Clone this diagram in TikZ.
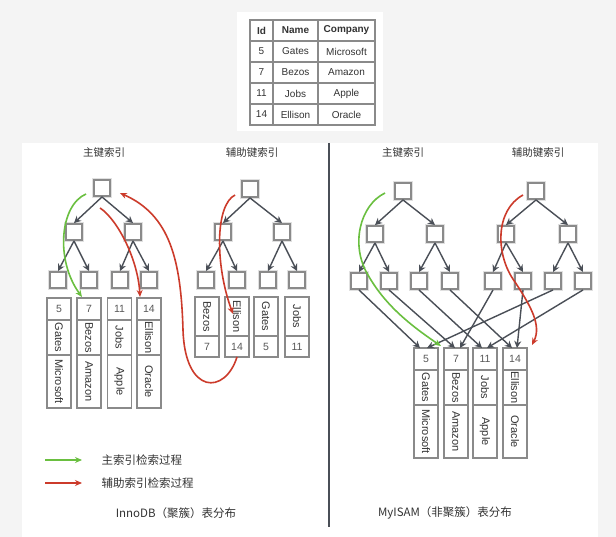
\documentclass[tikz,border=0pt]{standalone}
\usepackage{fontspec}
\setmainfont{Liberation Sans}
\newfontfamily\cjk{Noto Sans CJK SC}
\usetikzlibrary{arrows.meta,positioning}

\definecolor{boxgray}{HTML}{8A8A8A}
\definecolor{linegray}{HTML}{4A4F57}
\definecolor{txtgray}{HTML}{333333}
\definecolor{routegreen}{HTML}{6ABF40}
\definecolor{routered}{HTML}{CC3B2B}
\definecolor{bggray}{HTML}{F4F4F4}

\begin{document}
\begin{tikzpicture}[x=1pt, y=-1pt,
            keybox/.style={draw=boxgray, line width=1.9pt, fill=white, minimum size=16pt, inner sep=0pt,
                preaction={draw=black!12, line width=3.8pt}},
            treearrow/.style={draw=linegray, line width=1.4pt, -{Stealth[length=7pt, width=7pt]}},
            cell/.style={draw=boxgray, line width=1.6pt, fill=white, minimum width=24pt, inner sep=0pt,
                outer sep=0pt, text=txtgray, font=\fontsize{11}{12}\selectfont},
            idcell/.style={cell, text=black!65, font=\fontsize{10.5}{12}\selectfont},
            tablecell/.style={draw=boxgray, line width=1.3pt, minimum height=21pt, inner sep=0pt,
                outer sep=0pt, text=txtgray, font=\fontsize{10}{12}\selectfont},
            greenroute/.style={draw=routegreen, line width=1.6pt, -{Stealth[length=7pt, width=6pt]}},
            redroute/.style={draw=routered, line width=1.6pt, -{Stealth[length=7pt, width=6pt]}},
            cnlabel/.style={font=\cjk\fontsize{10.5}{12}\selectfont, text=txtgray},
            legendlabel/.style={font=\cjk\fontsize{11.5}{13}\selectfont, text=txtgray, anchor=west}
        ]
            \useasboundingbox (0,0) rectangle (616,537);
            % panels
            \fill[bggray] (0,0) rectangle (616,537);
            \fill[white] (22,143) rectangle (598,537);
            \fill[white] (237,12) rectangle (383,131);

            % table
            \foreach \r/\y/\a/\b/\c in {0/30.5/\textbf{Id}/\textbf{Name}/\textbf{Company},
                1/51.5/5/Gates/Microsoft, 2/72.5/7/Bezos/Amazon,
                3/93.5/11/Jobs/Apple, 4/114.5/14/Ellison/Oracle}{
                \node[tablecell, minimum width=23pt] (tid\r) at (261.5,\y) {\a};
                \node[tablecell, minimum width=45pt, right=0pt of tid\r] (tname\r) {\b};
                \node[tablecell, minimum width=57pt, right=0pt of tname\r] (tcomp\r) {\c};
            }
            \draw[boxgray, line width=1.9pt] (tid0.north west) rectangle (tcomp4.south east);

            % divider
            \draw[linegray, line width=2.5pt] (329,143) -- (329,527);

            % headers
            \node[cnlabel] (hip) at (104,153) {主键索引};
            \node[cnlabel] (his) at (252,153) {辅助键索引};
            \node[cnlabel] (hmp) at (403,153) {主键索引};
            \node[cnlabel] (hms) at (538,153) {辅助键索引};

            % InnoDB primary index
            \node[keybox] (ip1) at (102,188) {};
            \node[keybox] (ip2) at (74,232) {};
            \node[keybox] (ip3) at (133,232) {};
            \node[keybox] (ip4) at (58,280) {};
            \node[keybox] (ip5) at (89,280) {};
            \node[keybox] (ip6) at (120,280) {};
            \node[keybox] (ip7) at (149,280) {};

            % InnoDB secondary index
            \node[keybox] (is1) at (250,189) {};
            \node[keybox] (is2) at (223,232) {};
            \node[keybox] (is3) at (282,232) {};
            \node[keybox] (is4) at (206,280) {};
            \node[keybox] (is5) at (237,280) {};
            \node[keybox] (is6) at (268,280) {};
            \node[keybox] (is7) at (297,280) {};

            % MyISAM primary index
            \node[keybox] (mp1) at (403,191) {};
            \node[keybox] (mp2) at (375,234) {};
            \node[keybox] (mp3) at (435,234) {};
            \node[keybox] (mp4) at (359,281) {};
            \node[keybox] (mp5) at (389,281) {};
            \node[keybox] (mp6) at (419,281) {};
            \node[keybox] (mp7) at (450,281) {};

            % MyISAM secondary index
            \node[keybox] (ms1) at (536,191) {};
            \node[keybox] (ms2) at (506,234) {};
            \node[keybox] (ms3) at (568,234) {};
            \node[keybox] (ms4) at (493,281) {};
            \node[keybox] (ms5) at (523,281) {};
            \node[keybox] (ms6) at (553,281) {};
            \node[keybox] (ms7) at (583,281) {};

            \foreach \t in {ip, is, mp, ms}{
                \foreach \u/\v in {1/2, 1/3, 2/4, 2/5, 3/6, 3/7}{
                    \draw[treearrow] (\t\u.south) -- (\t\v.north);
                }
            }

            % InnoDB rows in the primary leaves
            \foreach \k/\x/\name/\comp in {5/59/Gates/Microsoft, 7/89/Bezos/Amazon,
                11/119.5/Jobs/Apple, 14/149/Ellison/Oracle}{
                \node[idcell, minimum height=22pt] (ir\k) at (\x,309) {\k};
                \node[cell, minimum height=35pt, below=0pt of ir\k] (irn\k) {\rotatebox{-90}{\name}};
                \node[cell, minimum height=53pt, below=0pt of irn\k] (irc\k) {\rotatebox{-90}{\comp}};
            }

            % InnoDB secondary leaves
            \foreach \k/\x/\name in {7/207/Bezos, 14/237/Ellison, 5/266/Gates, 11/297/Jobs}{
                \node[cell, minimum height=39pt] (isn\k) at (\x,316.5) {\rotatebox{-90}{\name}};
                \node[idcell, minimum height=21pt, below=0pt of isn\k] (isr\k) {\k};
            }

            % MyISAM data file
            \foreach \k/\x/\name/\comp in {5/426/Gates/Microsoft, 7/456/Bezos/Amazon,
                11/485/Jobs/Apple, 14/515/Ellison/Oracle}{
                \node[idcell, minimum height=22pt] (mr\k) at (\x,359) {\k};
                \node[cell, minimum height=35pt, below=0pt of mr\k] (mrn\k) {\rotatebox{-90}{\name}};
                \node[cell, minimum height=53pt, below=0pt of mrn\k] (mrc\k) {\rotatebox{-90}{\comp}};
            }

            % MyISAM leaves point to rows
            \foreach \u/\v/\dx in {mp4/mr5/-6, mp5/mr7/-1, mp6/mr11/-3, mp7/mr14/-3,
                ms4/mr7/4, ms5/mr14/2, ms6/mr5/1, ms7/mr11/2}{
                \draw[treearrow] (\u.south) -- ([xshift=\dx pt]\v.north);
            }

            % search paths, InnoDB
            \draw[greenroute] ([xshift=-7pt, yshift=-6pt]ip1.west)
                .. controls (60,205) and (55,260) .. ([xshift=-7pt, yshift=1pt]ir7.north);
            \draw[redroute] ([xshift=-2pt, yshift=-11pt]ip1.south)
                .. controls (118,220) and (138,260) .. ([xshift=-9pt, yshift=1pt]ir14.north);
            \draw[redroute] ([xshift=-6pt, yshift=-6pt]is1.west)
                .. controls (215,205) and (215,265) .. ([xshift=-4pt, yshift=-17pt]isn14.north);
            \draw[redroute] (isr14.south)
                .. controls (225,395) and (185,395) .. (183,330)
                .. controls (181,260) and (170,215) .. ([xshift=9pt, yshift=-5pt]ip1.east);

            % search paths, MyISAM
            \draw[greenroute] ([xshift=-9pt, yshift=-2pt]mp1.west)
                .. controls (360,205) and (350,245) .. (368,275)
                .. controls (385,305) and (410,325) .. ([xshift=-3pt, yshift=2pt]mr7.north west);
            \draw[redroute] ([xshift=-4pt, yshift=-4pt]ms1.west)
                .. controls (495,210) and (495,255) .. (515,282)
                .. controls (530,305) and (542,325) .. ([xshift=5pt, yshift=3pt]mr14.north east);

            % legend
            \node[legendlabel] (lggreen) at (98,460) {主索引检索过程};
            \node[legendlabel] (lgred) at (98,483) {辅助索引检索过程};
            \coordinate (lggs) at (45,460);
            \coordinate (lgrs) at (45,483);
            \draw[greenroute] (lggs) -- ([xshift=-16pt]lggreen.west);
            \draw[redroute] (lgrs) -- ([xshift=-16pt]lgred.west);

            % captions
            \node[cnlabel, font=\cjk\fontsize{11.5}{13}\selectfont] (capinno) at (176,513) {InnoDB（聚簇）表分布};
            \node[cnlabel, font=\cjk\fontsize{11.5}{13}\selectfont] (capmyi) at (445,513) {MyISAM（非聚簇）表分布};

        \end{tikzpicture}
\end{document}
